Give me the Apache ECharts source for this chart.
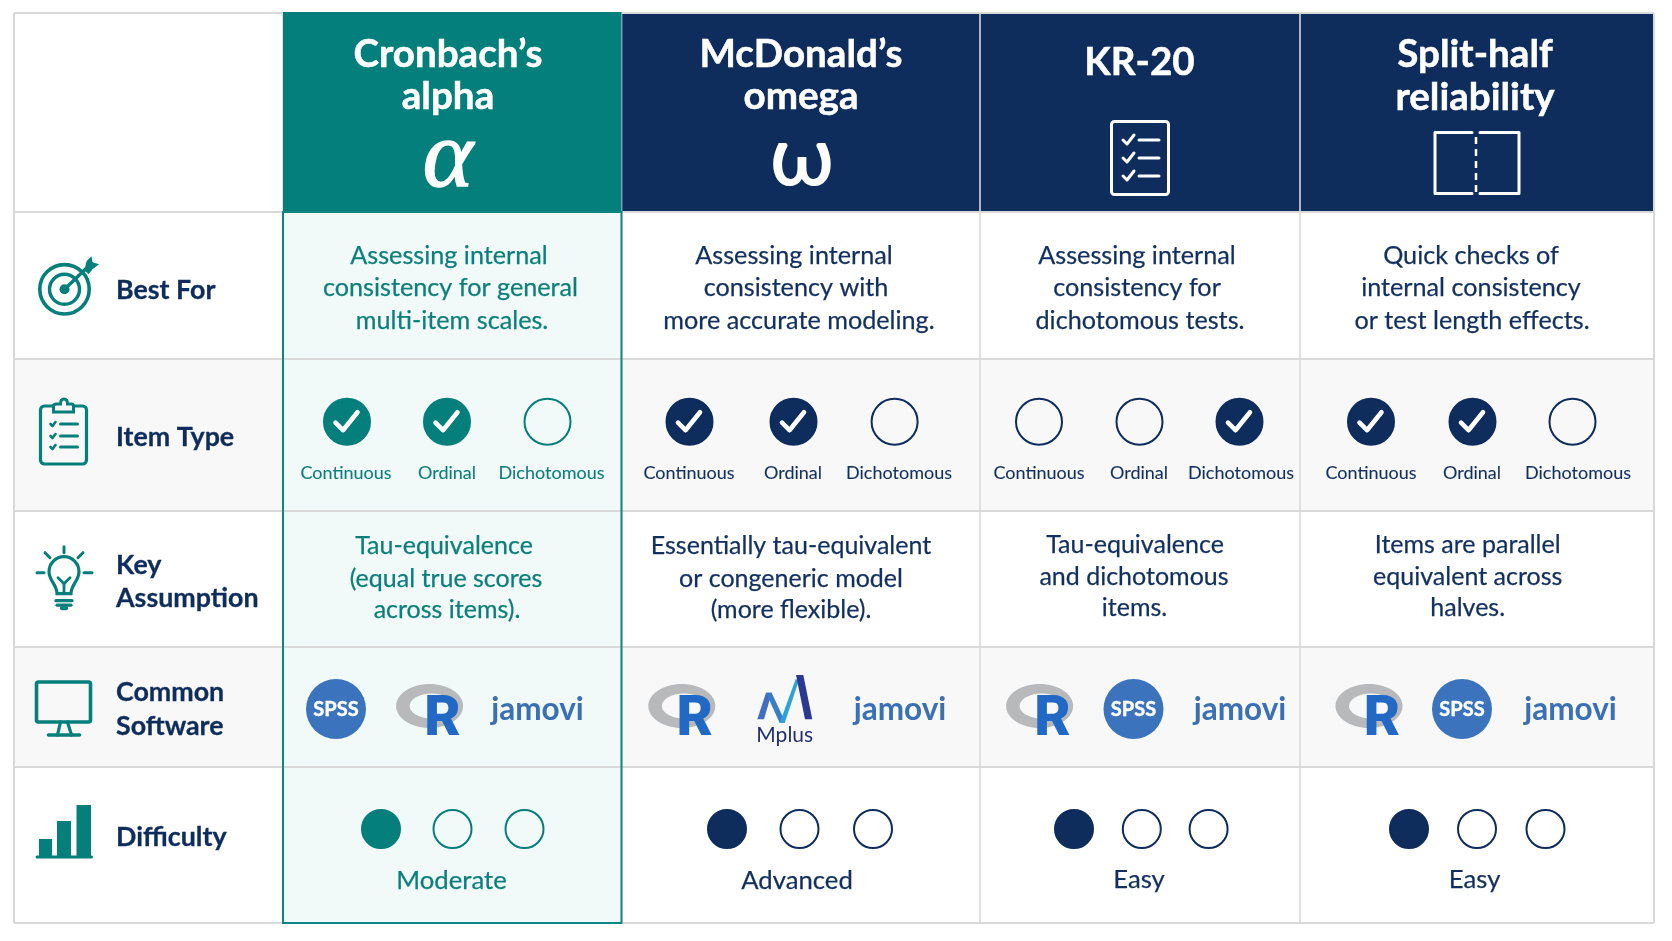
<!DOCTYPE html>
<html><head><meta charset="utf-8">
<style>html,body{margin:0;padding:0;background:#fff}#c{width:1672px;height:941px}</style>
<script src="https://cdn.jsdelivr.net/npm/echarts@6/dist/echarts.min.js"></script>
</head><body><div id="c"></div>
<script>
// ---------- content ----------
const METHODS = [['Cronbach’s','alpha'],['McDonald’s','omega'],['KR-20'],['Split-half','reliability']];
const ROW_LABELS = [['Best For'],['Item Type'],['Key','Assumption'],['Common','Software'],['Difficulty']];
const BEST_FOR = [
  ['Assessing internal','consistency for general','multi-item scales.'],
  ['Assessing internal','consistency with','more accurate modeling.'],
  ['Assessing internal','consistency for','dichotomous tests.'],
  ['Quick checks of','internal consistency','or test length effects.']];
const ITEM_TYPES = ['Continuous','Ordinal','Dichotomous'];
const ITEM_FLAGS = [[1,1,0],[1,1,0],[0,0,1],[1,1,0]];
const ASSUMPTIONS = [
  ['Tau-equivalence','(equal true scores','across items).'],
  ['Essentially tau-equivalent','or congeneric model','(more flexible).'],
  ['Tau-equivalence','and dichotomous','items.'],
  ['Items are parallel','equivalent across','halves.']];
const SOFTWARE = [['SPSS','R','jamovi'],['R','Mplus','jamovi'],['R','SPSS','jamovi'],['R','SPSS','jamovi']];
const DIFFICULTY_FILLED = [1,1,1,1];
const DIFFICULTY_LABELS = ['Moderate','Advanced','Easy','Easy'];

// ---------- layout (pixels of the page, read through the value axes) ----------
const COL_X = [14,283,621.5,980,1300,1654];
const ROW_Y = [13,212,359,511,647,767,923];
const NAVY='#0e2c5c', TEAL='#047f7b', TINT='#f1f9f9', GREY='#f8f8f9', LINE='#d9d9d9';
const BODY_FONT='Lato';
const HEAD_X=[448,801,1139.5,1475], HEAD_Y=[[55,97],[55,97],[63],[55,98]];
const LABEL_Y=[[290],[437.5],[565,598],[692.5,726.5],[837.5]];
const BEST_X=[[449,450.5,452],[794,796,799],[1137,1137,1140],[1471,1471,1472]];
const BEST_Y=[256,288,321];
const ASSUME_X=[[444,446,447],[791,791,791],[1135,1134,1134.5],[1467.7,1467.7,1467.7]];
const ASSUME_Y=[[546,578.5,610],[546,578.5,610],[544.5,576.5,608],[544.5,576.5,608]];
const ITEM_CX=[[347,447,547.5],[689.5,793.5,894.6],[1039,1139.5,1239.5],[1371,1472.5,1572.5]];
const ITEM_LX=[[346,447,551.5],[689,793,899],[1039,1139,1241],[1371,1472,1578]];
const ITEM_CY=421.7, ITEM_LY=473.5;
const DIFF_CX=[[381,452.5,524.5],[727,799.5,873],[1074,1141.8,1208.6],[1409,1477,1545.5]];
const DIFF_CY=829;
const DIFF_LX=[451.5,797,1139,1474.6], DIFF_LY=[880.7,880.7,879.5,879.5];
const SOFT_X=[[336,429.6,537.5],[681.8,784.7,900],[1039.6,1133.5,1240],[1369,1462,1570.5]];
const ROW_ICON=[['target',64.5,289.3],['clip',63.5,434],['bulb',64,572.7],['monitor',63.5,708],['bars',63,831]];
const HEAD_ICON=[['alpha',448,163],['omega',802,163],['doc',1140,158],['split',1477,163]];

// ---------- series data built from the arrays ----------
const cells=[];
for(let c=0;c<5;c++)for(let r=0;r<6;r++)cells.push([c,r]);

const texts=[];
const T=(x,y,t,size,weight,fill,align,heavy)=>texts.push({x,y,t,size,weight,fill,align:align||'center',heavy:heavy||0});
METHODS.forEach((m,c)=>m.forEach((l,i)=>T(HEAD_X[c],HEAD_Y[c][i],l,38.6,700,'#fff','center',0.5)));
ROW_LABELS.forEach((m,r)=>m.forEach((l,i)=>T(116,LABEL_Y[r][i],l,26.8,700,NAVY,'left',0.3)));
const ink=c=>c===0?'#0c7f7b':'#12305f';
BEST_FOR.forEach((m,c)=>m.forEach((l,i)=>T(BEST_X[c][i],BEST_Y[i],l,25.2,400,ink(c),'center',0.25)));
ASSUMPTIONS.forEach((m,c)=>m.forEach((l,i)=>T(ASSUME_X[c][i],ASSUME_Y[c][i],l,25,400,ink(c),'center',0.25)));
ITEM_FLAGS.forEach((m,c)=>ITEM_TYPES.forEach((l,i)=>T(ITEM_LX[c][i],ITEM_LY,l,18,400,ink(c),'center',0.1)));
DIFFICULTY_LABELS.forEach((l,c)=>T(DIFF_LX[c],DIFF_LY[c],l,25.7,400,ink(c),'center',0.25));

const itemPts=[], checkPts=[], diffPts=[];
ITEM_FLAGS.forEach((m,c)=>m.forEach((f,i)=>{
  itemPts.push({value:[ITEM_CX[c][i],ITEM_CY],itemStyle:{opacity:1,color:f?(c?NAVY:TEAL):'rgba(255,255,255,0)',borderColor:c?NAVY:TEAL,borderWidth:2}});
  if(f)checkPts.push([ITEM_CX[c][i],ITEM_CY]);
}));
DIFFICULTY_FILLED.forEach((n,c)=>[0,1,2].forEach(i=>{
  diffPts.push({value:[DIFF_CX[c][i],DIFF_CY],itemStyle:{opacity:1,color:i<n?(c?NAVY:TEAL):'rgba(255,255,255,0)',borderColor:c?NAVY:TEAL,borderWidth:2}});
}));

const softPts=[];
SOFTWARE.forEach((m,c)=>m.forEach((s,i)=>softPts.push([SOFT_X[c][i],s==='R'?705:709,s,c])));

// ---------- icon drawing ----------
const line=(x1,y1,x2,y2,stroke,w)=>({type:'line',shape:{x1,y1,x2,y2},style:{stroke,lineWidth:w,lineCap:'round'}});
const poly=(points,stroke,w)=>({type:'polyline',shape:{points},style:{stroke,lineWidth:w,fill:'none',lineCap:'round',lineJoin:'round'}});
const pgon=(points,fill)=>({type:'polygon',shape:{points},style:{fill}});
const ring=(cx,cy,r,stroke,w)=>({type:'circle',shape:{cx,cy,r},style:{fill:'none',stroke,lineWidth:w}});
const box=(x,y,width,height,r,stroke,w,fill)=>({type:'rect',shape:{x,y,width,height,r},style:{fill:fill||'none',stroke,lineWidth:w}});
const txt=(x,y,text,size,weight,fill,extra)=>({type:'text',style:Object.assign({x,y,text,fontSize:size,fontWeight:weight,fontFamily:'Lato',fill,align:'center',verticalAlign:'middle'},extra||{})});

const ICONS={
  target:()=>[ring(0,0,24.7,TEAL,3.6),ring(0,0,15,TEAL,3.4),{type:'circle',shape:{cx:0,cy:0,r:5},style:{fill:TEAL}},
    line(0,0,24,-23,TEAL,3.4),pgon([[20,-19],[22,-28],[27,-33],[28,-27],[34.5,-25],[28,-20],[24,-15]],TEAL)],
  clip:()=>[box(-23,-28,46,58,4,TEAL,3.2),
    {type:'path',shape:{pathData:'M-10,-22 L-10,-28 Q-10,-30 -7,-30 L-3,-30 Q-3,-35 0.5,-35 Q4,-35 4,-30 L8,-30 Q10,-30 10,-28 L10,-22 Z',layout:'center',x:-10,y:-35,width:20,height:13},style:{fill:GREY,stroke:TEAL,lineWidth:3}},
    line(-3,-10,14,-10,TEAL,3),line(-3,2,14,2,TEAL,3),line(-3,13,14,13,TEAL,3),
    poly([[-13,-10],[-11,-8],[-8,-12]],TEAL,2.6),poly([[-13,2],[-11,4],[-8,0]],TEAL,2.6),poly([[-13,13],[-11,15],[-8,11]],TEAL,2.6)],
  bulb:()=>[{type:'path',shape:{pathData:'M-7,21 C-7,12 -15,8 -15,-1 A15,15 0 1 1 15,-1 C15,8 7,12 7,21 Z',layout:'center',x:-15,y:-16,width:30,height:37},style:{fill:'none',stroke:TEAL,lineWidth:3.2}},
    line(0,-26,0,-20,TEAL,3),line(-27,0,-20,0,TEAL,3),line(20,0,28,0,TEAL,3),line(-19,-20,-14,-15,TEAL,3),line(19,-20,14,-15,TEAL,3),
    poly([[-6,5],[0,11],[6,5]],TEAL,2.8),line(0,11,0,21,TEAL,2.8),
    line(-8,28,8,28,TEAL,3.2),line(-7,32.5,7,32.5,TEAL,3.2),{type:'rect',shape:{x:-4,y:33,width:8,height:4.5,r:2},style:{fill:TEAL}}],
  monitor:()=>[box(-27,-26,54,40,2,TEAL,3.6),poly([[-3,14],[-6,27]],TEAL,3.2),poly([[4,14],[8,27]],TEAL,3.2),line(-15,27,16,27,TEAL,3.6)],
  bars:()=>[{type:'rect',shape:{x:-24,y:8,width:13,height:18},style:{fill:TEAL}},{type:'rect',shape:{x:-6,y:-10,width:14,height:36},style:{fill:TEAL}},{type:'rect',shape:{x:13.5,y:-26,width:14.5,height:52},style:{fill:TEAL}},line(-26,26,28.5,26,TEAL,3)],
  alpha:()=>[txt(0,-2,'α',96,400,'#fff',{fontFamily:'Liberation Serif',fontStyle:'italic',stroke:'#fff',lineWidth:1.5})],
  omega:()=>[txt(0,-4,'ω',82,600,'#fff',{fontFamily:'Lato'})],
  doc:()=>[box(-28.5,-36.5,57,73,3,'#fff',3),
    poly([[-17,-18],[-13,-14],[-6,-23]],'#fff',3),line(-1,-18,19,-18,'#fff',3),
    poly([[-17,0],[-13,4],[-6,-5]],'#fff',3),line(-1,0,19,0,'#fff',3),
    poly([[-17,18],[-13,22],[-6,13]],'#fff',3),line(-1,18,19,18,'#fff',3)],
  split:()=>[poly([[-5,-30.5],[-42,-30.5],[-42,30.5],[-5,30.5]],'#fff',3),poly([[3,-30.5],[42,-30.5],[42,30.5],[3,30.5]],'#fff',3),
    {type:'line',shape:{x1:-1,y1:-26,x2:-1,y2:30},style:{stroke:'#fff',lineWidth:2.5,lineDash:[7,5]}}]
};
const LOGOS={
  SPSS:()=>[{type:'circle',shape:{cx:0,cy:0,r:30},style:{fill:'#3b74bd'}},txt(0,1,'SPSS',20,700,'#fff',{fontFamily:'Lato',stroke:'#fff',lineWidth:0.4})],
  R:(bg)=>[{type:'ellipse',shape:{cx:0,cy:1,rx:33.5,ry:22},style:{fill:'#b7b9bb'}},{type:'ellipse',shape:{cx:2,cy:1,rx:22,ry:12.5},style:{fill:bg}},
    txt(13,16,'R',56,900,'#2169c5',{fontFamily:'Roboto'})],
  jamovi:()=>[txt(0,1,'jamovi',31.5,700,'#3c70b5',{fontFamily:'Lato'})],
  Mplus:()=>[pgon([[-27.4,10.3],[-18.7,-16.3],[-13,-16.3],[-20.7,10.3]],'#3f6fc0'),
    pgon([[-18.7,-16.3],[-13,-16.3],[0,12],[-5,14]],'#3a7cc8'),
    pgon([[-5,14],[0,14],[14,-28],[11,-30]],'#2ea3d8'),
    pgon([[11.3,-34],[18.6,-34],[27.6,10.3],[20.3,10.3]],'#2b3a90'),
    txt(0,26,'Mplus',21,400,'#22306f',{})]
};

const px=(api,x,y)=>api.coord([x,y]);
const option={
  animation:false,
  backgroundColor:'#fff',
  grid:{left:0,right:0,top:0,bottom:0},
  xAxis:{type:'value',min:0,max:1672,show:false},
  yAxis:{type:'value',min:0,max:941,inverse:true,show:false},
  series:[
    {type:'custom',coordinateSystem:'cartesian2d',silent:true,z:1,data:cells,
     renderItem(p,api){
       const c=api.value(0),r=api.value(1);
       const a=px(api,COL_X[c],ROW_Y[r]),b=px(api,COL_X[c+1],ROW_Y[r+1]);
       let fill='#fff';
       if(r===0) fill=c===0?'#fff':(c===1?TEAL:NAVY);
       else if(c===1) fill=TINT;
       else if(r===2||r===4) fill=GREY;
       return {type:'rect',shape:{x:a[0],y:a[1],width:b[0]-a[0],height:b[1]-a[1]},style:{fill}};
     }},
    {type:'custom',coordinateSystem:'cartesian2d',silent:true,z:2,data:[0],
     renderItem(p,api){
       const ch=[];
       ROW_Y.forEach((y,i)=>{const a=px(api,COL_X[0],y),b=px(api,COL_X[5],y);
         ch.push({type:'line',shape:{x1:a[0],y1:a[1],x2:b[0],y2:b[1]},style:{stroke:LINE,lineWidth:2}});});
       COL_X.forEach((x,i)=>{const a=px(api,x,ROW_Y[0]),b=px(api,x,ROW_Y[6]);
         ch.push({type:'line',shape:{x1:a[0],y1:a[1],x2:b[0],y2:b[1]},style:{stroke:LINE,lineWidth:i===0||i===5?2:1.6}});});
       const t=px(api,COL_X[1],12),u=px(api,COL_X[2],ROW_Y[1]),v=px(api,COL_X[2],ROW_Y[6]);
       ch.push({type:'rect',shape:{x:t[0],y:t[1],width:u[0]-t[0],height:u[1]-t[1]},style:{fill:TEAL}});
       ch.push({type:'rect',shape:{x:t[0],y:u[1],width:u[0]-t[0],height:v[1]-u[1]},style:{fill:'none',stroke:'#0d8580',lineWidth:2}});
       return {type:'group',children:ch};
     }},
    {type:'scatter',name:'Item type',silent:true,z:3,symbol:'circle',symbolSize:46,data:itemPts},
    {type:'scatter',name:'Difficulty',silent:true,z:3,symbol:'circle',symbolSize:38,data:diffPts},
    {type:'custom',coordinateSystem:'cartesian2d',silent:true,z:4,data:checkPts,
     renderItem(p,api){const a=px(api,api.value(0),api.value(1));
       return {type:'group',x:a[0],y:a[1],children:[poly([[-11.5,1],[-4,8.5],[10.5,-9.5]],'#fff',4.6)]};}},
    {type:'custom',coordinateSystem:'cartesian2d',silent:true,z:5,data:ROW_ICON.concat(HEAD_ICON).map(d=>[d[1],d[2]]),
     renderItem(p,api){const d=ROW_ICON.concat(HEAD_ICON)[p.dataIndex];const a=px(api,api.value(0),api.value(1));
       return {type:'group',x:a[0],y:a[1],children:ICONS[d[0]]()};}},
    {type:'custom',coordinateSystem:'cartesian2d',silent:true,z:5,data:softPts.map(d=>[d[0],d[1]]),
     renderItem(p,api){const d=softPts[p.dataIndex];const a=px(api,api.value(0),api.value(1));
       return {type:'group',x:a[0],y:a[1],children:LOGOS[d[2]](d[3]===0?TINT:GREY)};}},
    {type:'custom',coordinateSystem:'cartesian2d',silent:true,z:6,data:texts.map(t=>[t.x,t.y]),
     renderItem(p,api){const t=texts[p.dataIndex];const a=px(api,api.value(0),api.value(1));
       return {type:'text',x:a[0],y:a[1],style:{x:0,y:0,text:t.t,fontSize:t.size,fontWeight:t.weight,fontFamily:BODY_FONT,fill:t.fill,stroke:t.heavy?t.fill:undefined,lineWidth:t.heavy,align:t.align,verticalAlign:'middle'}};}}
  ]
};
echarts.init(document.getElementById('c'),null,{renderer:'canvas',width:1672,height:941}).setOption(option);
</script></body></html>
